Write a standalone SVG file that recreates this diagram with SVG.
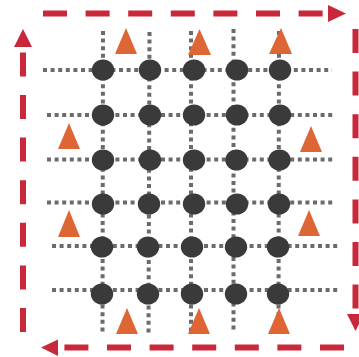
<svg xmlns="http://www.w3.org/2000/svg" width="359" height="357" viewBox="0 0 359 357">
<defs>
<style>
.grid{stroke:#6b6b6b;stroke-width:4;stroke-dasharray:4 3.6;fill:none}
.border{stroke:#c9283a;stroke-width:6;stroke-dasharray:24 18.6;fill:none}
.head{fill:#c9283a}
.node{fill:#3b3a3a}
.tri{fill:#de6634}
</style>
</defs>
<rect width="359" height="357" fill="#ffffff"/>
<g id="connectors">
<g id="grid-lines">
<line class="grid" x1="43" y1="70" x2="332" y2="70"/>
<line class="grid" x1="47" y1="115" x2="335" y2="115"/>
<line class="grid" x1="47" y1="159.5" x2="335" y2="159.5"/>
<line class="grid" x1="47" y1="202.5" x2="335" y2="202.5"/>
<line class="grid" x1="52" y1="246" x2="339" y2="246"/>
<line class="grid" x1="52" y1="290" x2="339" y2="290"/>
<line class="grid" x1="103" y1="31" x2="102.5" y2="333"/>
<line class="grid" x1="149.5" y1="32" x2="148.5" y2="335"/>
<line class="grid" x1="191" y1="31" x2="191" y2="333"/>
<line class="grid" x1="233.5" y1="29" x2="233.5" y2="333"/>
<line class="grid" x1="279" y1="31" x2="278.5" y2="333"/>
</g>
<g id="border">
<line class="border" x1="43" y1="13.5" x2="323" y2="13.5"/>
<polygon class="head" points="328,5 346,13.5 328,22"/>
<line class="border" x1="355.5" y1="29" x2="355.5" y2="309"/>
<polygon class="head" points="347,314 364,314 355.5,331"/>
<line class="border" x1="344" y1="347.5" x2="64" y2="347.5"/>
<polygon class="head" points="58,339.5 41,347.5 58,356"/>
<line class="border" x1="23" y1="332" x2="23" y2="52"/>
<polygon class="head" points="14,47 23,29 32,47"/>
</g>
</g>
<g id="nodes">
<g id="n11"><ellipse class="node" cx="103" cy="70" rx="11.2" ry="10.6"/></g>
<g id="n12"><ellipse class="node" cx="150" cy="70" rx="11.2" ry="10.6"/></g>
<g id="n13"><ellipse class="node" cx="194" cy="70" rx="11.2" ry="10.6"/></g>
<g id="n14"><ellipse class="node" cx="237" cy="70" rx="11.2" ry="10.6"/></g>
<g id="n15"><ellipse class="node" cx="280" cy="70" rx="11.2" ry="10.6"/></g>
<g id="n21"><ellipse class="node" cx="103" cy="115" rx="11.2" ry="10.6"/></g>
<g id="n22"><ellipse class="node" cx="150" cy="115" rx="11.2" ry="10.6"/></g>
<g id="n23"><ellipse class="node" cx="194" cy="115" rx="11.2" ry="10.6"/></g>
<g id="n24"><ellipse class="node" cx="237" cy="115" rx="11.2" ry="10.6"/></g>
<g id="n25"><ellipse class="node" cx="280" cy="115" rx="11.2" ry="10.6"/></g>
<g id="n31"><ellipse class="node" cx="103" cy="160" rx="11.2" ry="10.6"/></g>
<g id="n32"><ellipse class="node" cx="150" cy="160" rx="11.2" ry="10.6"/></g>
<g id="n33"><ellipse class="node" cx="194" cy="160" rx="11.2" ry="10.6"/></g>
<g id="n34"><ellipse class="node" cx="236.5" cy="160" rx="11.2" ry="10.6"/></g>
<g id="n35"><ellipse class="node" cx="279.5" cy="160" rx="11.2" ry="10.6"/></g>
<g id="n41"><ellipse class="node" cx="103" cy="204" rx="11.2" ry="10.6"/></g>
<g id="n42"><ellipse class="node" cx="149" cy="204" rx="11.2" ry="10.6"/></g>
<g id="n43"><ellipse class="node" cx="194" cy="204" rx="11.2" ry="10.6"/></g>
<g id="n44"><ellipse class="node" cx="237" cy="204" rx="11.2" ry="10.6"/></g>
<g id="n45"><ellipse class="node" cx="279" cy="204" rx="11.2" ry="10.6"/></g>
<g id="n51"><ellipse class="node" cx="102" cy="247" rx="11.2" ry="10.6"/></g>
<g id="n52"><ellipse class="node" cx="148" cy="247" rx="11.2" ry="10.6"/></g>
<g id="n53"><ellipse class="node" cx="192" cy="247" rx="11.2" ry="10.6"/></g>
<g id="n54"><ellipse class="node" cx="236" cy="247" rx="11.2" ry="10.6"/></g>
<g id="n55"><ellipse class="node" cx="278" cy="247" rx="11.2" ry="10.6"/></g>
<g id="n61"><ellipse class="node" cx="102" cy="294" rx="11.2" ry="10.6"/></g>
<g id="n62"><ellipse class="node" cx="148" cy="294" rx="11.2" ry="10.6"/></g>
<g id="n63"><ellipse class="node" cx="192" cy="294" rx="11.2" ry="10.6"/></g>
<g id="n64"><ellipse class="node" cx="236" cy="294" rx="11.2" ry="10.6"/></g>
<g id="n65"><ellipse class="node" cx="278" cy="294" rx="11.2" ry="10.6"/></g>
</g>
<g id="markers">
<g id="t1"><polygon class="tri" points="126,28 137,54 115,54"/></g>
<g id="t2"><polygon class="tri" points="199.5,29 211,55 188,55"/></g>
<g id="t3"><polygon class="tri" points="281,28 292,54 269,54"/></g>
<g id="t4"><polygon class="tri" points="69,123 80,149 58,149"/></g>
<g id="t5"><polygon class="tri" points="311,126 322,152 300,152"/></g>
<g id="t6"><polygon class="tri" points="69,210 80,237 58,237"/></g>
<g id="t7"><polygon class="tri" points="309,210 320,236 298,236"/></g>
<g id="t8"><polygon class="tri" points="127,308 138,334 116,334"/></g>
<g id="t9"><polygon class="tri" points="199,308 210,334 188,334"/></g>
<g id="t10"><polygon class="tri" points="279,308 290,334 268,334"/></g>
</g>
</svg>
